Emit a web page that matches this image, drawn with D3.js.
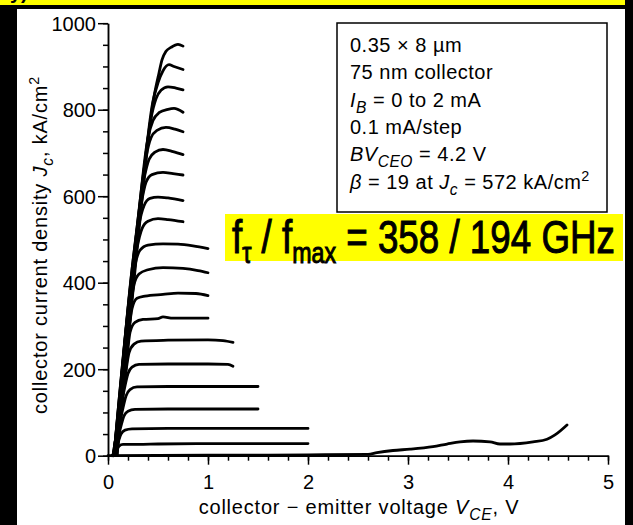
<!DOCTYPE html>
<html>
<head>
<meta charset="utf-8">
<script src="https://cdn.jsdelivr.net/npm/d3@7"></script>
<style>
  html, body { margin: 0; padding: 0; background: #000; }
  svg { display: block; }
  text { font-family: 'Liberation Sans', Arial, Helvetica, sans-serif; fill: #000; }
</style>
</head>
<body>
<div id="chart-mount"></div>
<script>
var WIDTH = 633;
var HEIGHT = 525;

// tick values
var X_TICKS = [0, 1, 2, 3, 4, 5];
var X_MINOR = d3.range(0, 5.01, 0.2);
var Y_TICKS = [0, 200, 400, 600, 800, 1000];
var Y_MINOR = d3.range(0, 1001, 50);

// I-V family: [V_CE (V), J_c (kA/cm2)]
var ib01 = [[0.04,0],[0.08,12],[0.11,22],[0.15,26],[0.3,26],[0.5,27],[1.0,28],[2.0,28]];
var ib02 = [[0.05,0],[0.1,30],[0.13,50],[0.17,59],[0.24,62],[0.6,63],[1.2,63],[2.0,63]];
var ib03 = [[0.05,0],[0.12,60],[0.16,92],[0.2,103],[0.27,107],[0.6,108],[1.0,108],[1.5,108]];
var ib04 = [[0.05,0],[0.14,100],[0.18,138],[0.22,153],[0.29,159],[0.6,160],[1.0,160],[1.5,160]];
var ib05 = [[0.05,0],[0.16,150],[0.2,190],[0.24,205],[0.31,211],[0.6,212],[1.0,212],[1.2,211],[1.25,207]];
var ib06 = [[0.05,0],[0.17,180],[0.21,238],[0.26,258],[0.33,265],[0.6,267],[1.0,268],[1.15,266],[1.25,262]];
var ib07 = [[0.06,0],[0.18,200],[0.22,285],[0.27,308],[0.35,315],[0.5,317],[0.55,321],[0.65,318],[1.0,318]];
var ib08 = [[0.06,0],[0.19,250],[0.24,340],[0.29,364],[0.37,369],[0.55,373],[0.7,376],[0.88,375],[1.0,370]];
var ib09 = [[0.06,0],[0.2,300],[0.26,395],[0.31,420],[0.4,430],[0.55,435],[0.75,433],[0.9,428],[1.0,423]];
var ib10 = [[0.06,0],[0.21,340],[0.27,440],[0.32,475],[0.4,487],[0.55,490],[0.7,489],[0.85,485],[1.0,479]];
var ib11 = [[0.06,0],[0.22,370],[0.29,480],[0.34,525],[0.4,542],[0.5,548],[0.6,546],[0.75,541]];
var ib12 = [[0.06,0],[0.23,400],[0.31,535],[0.36,578],[0.42,595],[0.5,598],[0.6,596],[0.75,590]];
var ib13 = [[0.07,0],[0.24,430],[0.33,580],[0.38,632],[0.44,650],[0.55,655],[0.65,652],[0.75,649]];
var ib14 = [[0.07,0],[0.25,450],[0.36,640],[0.41,685],[0.47,702],[0.55,708],[0.65,703],[0.75,696]];
var ib15 = [[0.07,0],[0.26,460],[0.38,690],[0.43,735],[0.49,752],[0.58,759],[0.67,755],[0.75,749]];
var ib16 = [[0.08,0],[0.27,470],[0.4,735],[0.45,775],[0.51,793],[0.6,801],[0.66,803],[0.75,794]];
var ib17 = [[0.08,0],[0.28,480],[0.43,780],[0.48,825],[0.53,845],[0.6,853],[0.68,850],[0.75,846]];
var ib18 = [[0.09,0],[0.29,490],[0.45,820],[0.5,862],[0.55,890],[0.61,904],[0.66,900],[0.75,893]];
var ib19 = [[0.09,0],[0.3,500],[0.46,830],[0.51,885],[0.54,915],[0.58,935],[0.63,944],[0.7,951],[0.75,947]];
// I_B = 0, open-base breakdown trace
var ib00 = [[0,0],[1.0,1],[2.0,2],[2.6,3],[2.69,7],[2.85,12],[3.02,15],[3.25,21],[3.39,27],[3.52,32],[3.65,34],
  [3.82,32],[3.92,27],[4.02,27],[4.25,32],[4.39,38],[4.47,48],[4.59,71]];

var curves = [ib00, ib01, ib02, ib03, ib04, ib05, ib06, ib07, ib08, ib09, ib10,
  ib11, ib12, ib13, ib14, ib15, ib16, ib17, ib18, ib19];

var INSET_LINES = [
  [['0.35 \u00d7 8 \u00b5m', '']],
  [['75 nm collector', '']],
  [['I', 'i'], ['B', 'isub'], [' = 0 to 2 mA', '']],
  [['0.1 mA/step', '']],
  [['BV', 'i'], ['CEO', 'isub'], [' = 4.2 V', '']],
  [['\u03b2', 'i'], [' = 19 at ', ''], ['J', 'i'], ['c', 'isub'], [' = 572 kA/cm', ''], ['2', 'sup']]
];

var x = d3.scaleLinear().domain([0, 5]).range([108, 608]);
var y = d3.scaleLinear().domain([0, 1000]).range([455.7, 23.2]);

var $svg = d3.select('#chart-mount').append('svg')
  .attr('width', WIDTH)
  .attr('height', HEIGHT);

// writes a run of plain / italic / sub / superscript pieces into a text node
function richText ($text, parts, fontSize) {
  var shift = 0;
  parts.forEach(function (p) {
    var style = p[1];
    var want = 0;
    var size = fontSize;
    if (style.indexOf('sub') >= 0) { want = fontSize * 0.3; size = fontSize * 0.78; }
    if (style === 'sup') { want = -fontSize * 0.38; size = fontSize * 0.72; }
    $text.append('tspan')
      .attr('dy', want - shift)
      .attr('font-size', size)
      .attr('font-style', style.charAt(0) === 'i' ? 'italic' : null)
      .text(p[0]);
    shift = want;
  });
}

// background, page frame
$svg.append('rect').attr('width', WIDTH).attr('height', HEIGHT).attr('fill', '#000');
$svg.append('rect').attr('x', 0).attr('y', 0).attr('width', 625).attr('height', 5).attr('fill', '#ffff00');
$svg.append('text')
  .attr('x', 10).attr('y', -1)
  .attr('font-size', 20).attr('font-weight', 'bold')
  .text('y)');
$svg.append('rect').attr('x', 17).attr('y', 9).attr('width', 608).attr('height', HEIGHT - 9).attr('fill', '#fff');

// axes
var $xMinor = $svg.append('g')
  .attr('transform', 'translate(0,' + y(0) + ')')
  .call(d3.axisBottom(x).tickValues(X_MINOR).tickSize(5).tickSizeOuter(0).tickFormat(''));
var $xAxis = $svg.append('g')
  .attr('transform', 'translate(0,' + y(0) + ')')
  .call(d3.axisBottom(x).tickValues(X_TICKS).tickSize(9).tickSizeOuter(0).tickFormat(d3.format('d')));
var $yMinor = $svg.append('g')
  .attr('transform', 'translate(' + x(0) + ',0)')
  .call(d3.axisLeft(y).tickValues(Y_MINOR).tickSize(5).tickSizeOuter(0).tickFormat(''));
var $yAxis = $svg.append('g')
  .attr('transform', 'translate(' + x(0) + ',0)')
  .call(d3.axisLeft(y).tickValues(Y_TICKS).tickSize(10).tickSizeOuter(0).tickFormat(d3.format('d')));

[$xMinor, $xAxis, $yMinor, $yAxis].forEach(function ($g) {
  $g.selectAll('path, line').attr('stroke', '#000').attr('stroke-width', 1.5);
  $g.selectAll('text')
    .attr('fill', '#000')
    .style('font-family', "'Liberation Sans', Arial, sans-serif")
    .attr('font-size', 20);
});
$xAxis.selectAll('text').attr('dy', null).attr('y', 33);
$yAxis.selectAll('text').attr('x', -12).attr('dy', '0.36em');

// axis titles
var $yTitle = $svg.append('text')
  .attr('transform', 'translate(47,' + 245 + ') rotate(-90)')
  .attr('text-anchor', 'middle')
  .attr('font-size', 20)
  .attr('letter-spacing', 0.8);
richText($yTitle, [['collector current density ', ''], ['J', 'i'], ['c', 'isub'], [', kA/cm', ''], ['2', 'sup']], 20);

var $xTitle = $svg.append('text')
  .attr('x', 359).attr('y', 514)
  .attr('text-anchor', 'middle')
  .attr('font-size', 20)
  .attr('letter-spacing', 0.8);
richText($xTitle, [['collector \u2212 emitter voltage ', ''], ['V', 'i'], ['CE', 'isub'], [', V', '']], 20);

// curves
var line = d3.line()
  .x(function (d) { return x(d[0]); })
  .y(function (d) { return y(d[1]); })
  .curve(d3.curveMonotoneX);

$svg.append('g')
  .selectAll('path')
  .data(curves)
  .enter()
    .append('path')
    .attr('d', line)
    .attr('fill', 'none')
    .attr('stroke', '#000')
    .attr('stroke-width', 2.8)
    .attr('stroke-linejoin', 'round')
    .attr('stroke-linecap', 'round');

// inset box
$svg.append('rect')
  .attr('x', 337).attr('y', 23).attr('width', 270).attr('height', 189)
  .attr('fill', '#fff').attr('stroke', '#000').attr('stroke-width', 1.5);

INSET_LINES.forEach(function (parts, i) {
  var $t = $svg.append('text')
    .attr('x', 350)
    .attr('y', 52 + i * 27.3)
    .attr('font-size', 20)
    .attr('letter-spacing', 0.5);
  richText($t, parts, 20);
});

// f_t / f_max badge
$svg.append('rect')
  .attr('x', 225).attr('y', 214).attr('width', 398).attr('height', 47)
  .attr('fill', '#ffff00');
var $badge = $svg.append('text')
  .attr('x', 0).attr('y', 253)
  .attr('font-size', 46)
  .attr('stroke', '#000')
  .attr('stroke-width', 1);
var badgeParts = [['f', ''], ['\u03c4', 'sub'], [' / f', ''], ['max', 'sub'], [' = 358 / 194 GHz', '']];
var shift = 0;
badgeParts.forEach(function (p) {
  var want = p[1] === 'sub' ? 10 : 0;
  $badge.append('tspan')
    .attr('dy', want - shift)
    .attr('font-size', p[1] === 'sub' ? 29 : 46)
    .text(p[0]);
  shift = want;
});
var badgeWidth = $badge.node().getComputedTextLength();
$badge.attr('transform', 'translate(232,0) scale(' + (383 / badgeWidth) + ',1)');
</script>
</body>
</html>
